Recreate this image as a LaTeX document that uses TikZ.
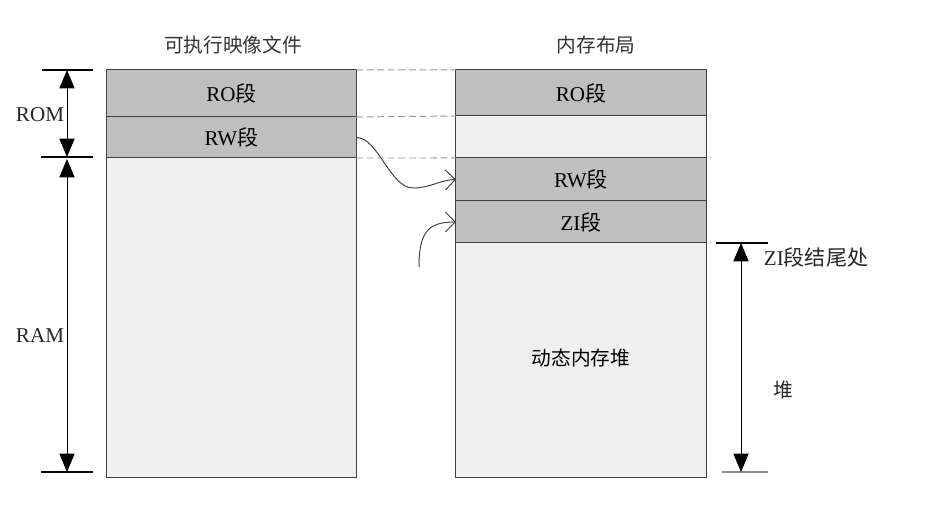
\documentclass[tikz,border=0pt]{standalone}
\usepackage{fontspec}
\setmainfont{Liberation Serif}
\newfontfamily\cjk{Noto Sans CJK SC}
\usetikzlibrary{arrows.meta}
\colorlet{segD}{black!25}
\colorlet{segL}{black!6}
\colorlet{rule}{black!75}
\colorlet{guide}{black!40}
\tikzset{
  seg/.style    ={draw=rule, line width=0.7pt, inner sep=0pt, outer sep=0pt,
                  align=center, font=\fontsize{15}{17}\selectfont},
  Lfull/.style  ={seg, fill=segD},
  Lempty/.style ={seg, fill=segL},
  colL/.style   ={minimum width=6.225cm},
  colR/.style   ={minimum width=6.25cm},
  guideline/.style={guide, line width=0.7pt, dash pattern=on 5pt off 2.5pt},
  move/.style   ={-{Straight Barb[length=2.5mm,width=5mm]}, rule, line width=0.7pt},
  dimarrow/.style={{Triangle[length=4.6mm,width=3.8mm]}-{Triangle[length=4.6mm,width=3.8mm]},
                  black, line width=0.7pt},
  tick/.style   ={black, line width=0.8pt},
  title/.style  ={font=\cjk\fontsize{14}{16}\selectfont, text=black!80},
  dimlabel/.style={font=\fontsize{15}{17}\selectfont, text=black!85},
}

\begin{document}
\begin{tikzpicture}[x=0.025cm, y=-0.025cm]
\useasboundingbox (0,0) rectangle (933,523);

% --- column titles ---
\node[title] (tImage) at (233,45) {可执行映像文件};
\node[title] (tMem)   at (596,45) {内存布局};

% --- executable image ---
\node[Lfull, colL, minimum height=1.175cm] (roL)  at (231.5, 93.5) {RO{\cjk 段}};
\node[Lfull, colL, minimum height=1.025cm] (rwL)  at (231.5,137.5) {RW{\cjk 段}};
\node[Lempty, colL, minimum height=7.975cm] (ramL) at (231.5,317.5) {};

% --- memory layout ---
\node[Lfull, colR, minimum height=1.15cm]  (roR)  at (581, 93)   {RO{\cjk 段}};
\node[Lempty, colR, minimum height=1.05cm] (gapR) at (581,137)   {};
\node[Lfull, colR, minimum height=1.075cm] (rwR)  at (581,179.5) {RW{\cjk 段}};
\node[Lfull, colR, minimum height=1.05cm]  (ziR)  at (581,222)   {ZI{\cjk 段}};
\node[Lempty, colR, minimum height=5.85cm, font=\cjk\fontsize{14}{16}\selectfont]
     (heapR) at (581,360) {\raisebox{4pt}{动态内存堆}};

% --- dashed guides between the two columns ---
\draw[guideline] (roL.north east) -- (roR.north west);
\draw[guideline] (rwL.north east) -- (gapR.north west);
\draw[guideline] (rwL.south east) -- (rwR.north west);

% --- moves ---
\draw[move] (rwL.east) .. controls (378,137) and (390,188) .. (413,188)
            .. controls (430,188) and (440,180) .. (rwR.west);
\coordinate (ziIn) at (419,267);
\draw[move] (ziIn) .. controls (419,232) and (428,222) .. (ziR.west);

% --- ROM / RAM dimensions ---
\coordinate (romT) at (67,70);
\coordinate (romB) at (67,157);
\coordinate (ramT) at (67,159);
\coordinate (ramB) at (67,472);
\draw[tick] ([xshift=-0.625cm]romT) -- ([xshift=0.65cm]romT);
\draw[tick] ([xshift=-0.65cm]romB)  -- ([xshift=0.65cm]romB);
\draw[tick] ([xshift=-0.65cm]ramB)  -- ([xshift=0.65cm]ramB);
\draw[dimarrow] (romT) -- (romB);
\draw[dimarrow] (ramT) -- (ramB);
\node[dimlabel] (lRom) at (40,115) {ROM};
\node[dimlabel] (lRam) at (40,336) {RAM};

% --- heap dimension ---
\coordinate (heapT) at (741,243);
\coordinate (heapB) at (741,472);
\draw[tick] ([xshift=-0.625cm]heapT) -- ([xshift=0.675cm]heapT);
\draw[black!45, line width=1.2pt] ([xshift=-0.475cm]heapB) -- ([xshift=0.675cm]heapB);
\draw[dimarrow] (heapT) -- (heapB);
\node[dimlabel, anchor=west] (lZiEnd) at (759,257) {ZI{\cjk 段结尾处}};
\node[dimlabel, font=\cjk\fontsize{14}{16}\selectfont] (lHeap) at (783,390) {堆};

\end{tikzpicture}
\end{document}
